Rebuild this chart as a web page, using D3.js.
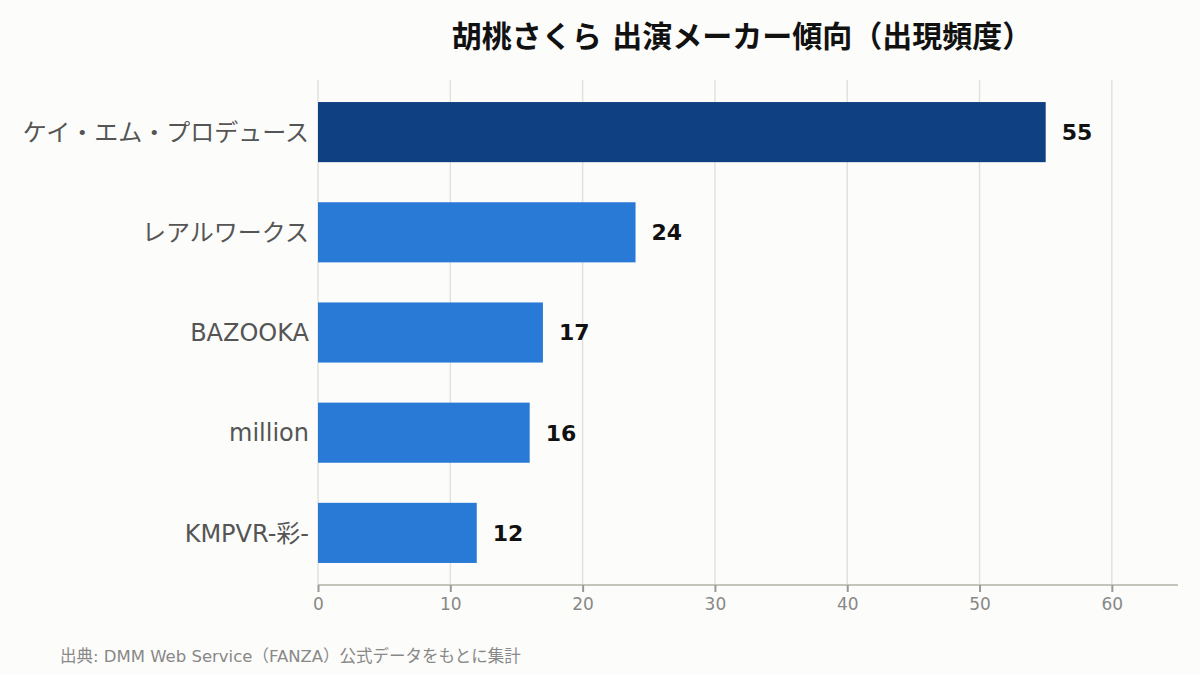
<!DOCTYPE html>
<html>
<head>
<meta charset="utf-8">
<script src="https://cdn.jsdelivr.net/npm/d3@7"></script>
<style>
  body { margin: 0; background: #fcfcfa; }
  svg { display: block; }
</style>
</head>
<body>
<div id="chart"></div>
<script>
// data
var makers = ["ケイ・エム・プロデュース", "レアルワークス", "BAZOOKA", "million", "KMPVR-彩-"];
var counts = [55, 24, 17, 16, 12];
var ticks = [0, 10, 20, 30, 40, 50, 60];

var width = 1200;
var height = 675;
var margin = { top: 80, right: 22, bottom: 90, left: 318 };
var font = "'DejaVu Sans', 'Noto Sans CJK JP', sans-serif";

var svg = d3.select("#chart")
    .append("svg")
    .attr("width", width)
    .attr("height", height);

svg.append("rect")
    .attr("width", width)
    .attr("height", height)
    .attr("fill", "#fcfcfa");

var xScale = d3.scaleLinear()
    .domain([0, 65])
    .range([margin.left, width - margin.right]);

var yScale = d3.scaleBand()
    .domain(makers)
    .range([margin.top, height - margin.bottom])
    .paddingInner(0.4)
    .paddingOuter(0.22);

// grid
svg.append("g")
    .selectAll("line")
    .data(ticks)
    .enter()
    .append("line")
    .attr("x1", function(d) { return xScale(d); })
    .attr("x2", function(d) { return xScale(d); })
    .attr("y1", margin.top)
    .attr("y2", height - margin.bottom)
    .attr("stroke", "#e2e2dc")
    .attr("stroke-width", 1.5);

// bars
svg.append("g")
    .selectAll(".bar")
    .data(counts)
    .enter()
    .append("rect")
    .attr("class", "bar")
    .attr("x", xScale(0))
    .attr("y", function(d, i) { return yScale(makers[i]); })
    .attr("width", function(d) { return xScale(d) - xScale(0); })
    .attr("height", yScale.bandwidth())
    .attr("fill", function(d, i) { return i === 0 ? "#0f4182" : "#2979d6"; });

// value labels
svg.append("g")
    .selectAll("text")
    .data(counts)
    .enter()
    .append("text")
    .attr("x", function(d) { return xScale(d) + 16; })
    .attr("y", function(d, i) { return yScale(makers[i]) + yScale.bandwidth() / 2; })
    .attr("dy", "0.36em")
    .attr("font-family", font)
    .attr("font-weight", "bold")
    .attr("font-size", 22)
    .attr("fill", "#111")
    .text(function(d) { return d; });

// category labels
svg.append("g")
    .selectAll("text")
    .data(makers)
    .enter()
    .append("text")
    .attr("x", margin.left - 9)
    .attr("y", function(d) { return yScale(d) + yScale.bandwidth() / 2; })
    .attr("dy", "0.36em")
    .attr("text-anchor", "end")
    .attr("font-family", font)
    .attr("font-size", 24)
    .attr("fill", "#555")
    .text(function(d) { return d; });

// x axis
var xAxis = svg.append("g")
    .attr("transform", "translate(0," + (height - margin.bottom) + ")")
    .call(d3.axisBottom(xScale).tickValues(ticks).tickSize(7).tickPadding(6));

xAxis.select(".domain")
    .attr("stroke", "#c4c4bc")
    .attr("stroke-width", 2)
    .attr("d", "M" + xScale(0) + ",0H" + xScale(65));
xAxis.selectAll(".tick line")
    .attr("stroke", "#999")
    .attr("stroke-width", 2);
xAxis.selectAll(".tick text")
    .attr("font-family", font)
    .attr("font-size", 17)
    .attr("fill", "#888");

// title
svg.append("text")
    .attr("x", 742)
    .attr("y", 47)
    .attr("text-anchor", "middle")
    .attr("font-family", font)
    .attr("font-weight", "bold")
    .attr("font-size", 30)
    .attr("fill", "#111")
    .text("胡桃さくら 出演メーカー傾向（出現頻度）");

// source
svg.append("text")
    .attr("x", 60)
    .attr("y", 662)
    .attr("font-family", font)
    .attr("font-size", 16.5)
    .attr("fill", "#888")
    .text("出典: DMM Web Service（FANZA）公式データをもとに集計");
</script>
</body>
</html>
